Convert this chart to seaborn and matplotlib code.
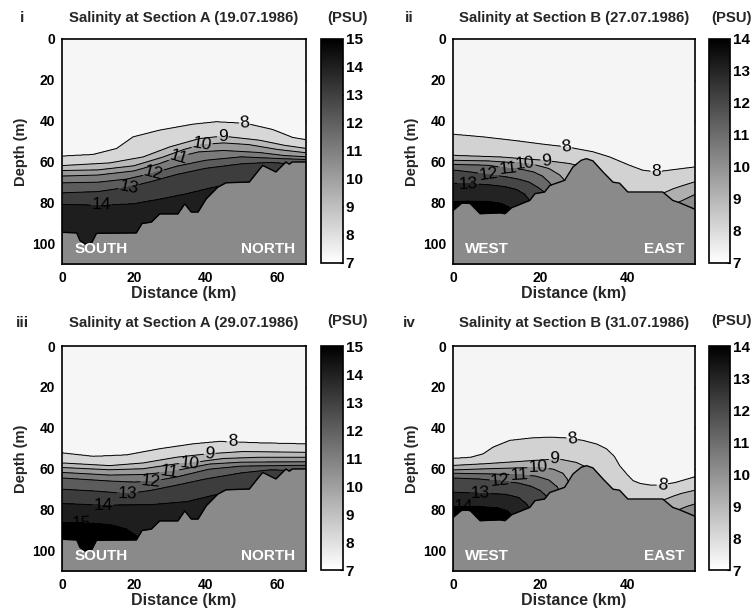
import numpy as np
import matplotlib
matplotlib.use("Agg")
import matplotlib.pyplot as plt
import seaborn as sns
from matplotlib.colors import Normalize
from matplotlib.cm import ScalarMappable

# ---------------- data ----------------
# bathymetry (distance km, depth m)
BATHY_A_KM = [0, 4.1, 5.0, 6.4, 8.2, 9.6, 20.7, 22.3, 24.9, 27.2, 32.3, 34.2, 36.0, 37.9, 40.2, 43.4, 45.7, 52.2, 55.9, 59.6, 62.4, 63.3, 64.2, 68.0]
BATHY_A_M = [94.5, 94.8, 98.5, 100.2, 99.8, 95.0, 94.8, 90.2, 89.5, 85.5, 85.5, 80.6, 84.6, 84.6, 78.1, 72.4, 70.3, 69.9, 61.8, 65.0, 60.1, 61.2, 60.1, 60.1]
BATHY_B_KM = [0, 2.0, 3.9, 6.2, 10.8, 11.9, 13.4, 17.6, 18.8, 21.0, 22.2, 25.6, 27.5, 29.4, 30.6, 32.1, 34.4, 36.7, 38.2, 40.1, 48.1, 50.4, 51.9, 55.8]
BATHY_B_M = [83.8, 80.2, 80.4, 85.4, 85.0, 85.4, 82.5, 78.9, 75.6, 74.8, 71.6, 69.1, 62.6, 59.3, 58.5, 59.6, 65.0, 70.0, 70.5, 74.8, 74.8, 78.9, 80.0, 83.5]

# isohaline depths (km, m) -- panel i, Section A 19.07.1986
I_08 = [(0, 57.3), (8.7, 56.5), (15.2, 53.6), (19.8, 47.9), (27.2, 44.6), (36.5, 41.7), (43, 40.5), (51.3, 41.3), (58.7, 44.3), (64.3, 48.2), (68, 49.3)]
I_09 = [(0, 61.9), (13.3, 60.6), (22.6, 57.7), (30, 52.8), (38.3, 48.7), (44.8, 47.5), (55, 49.5), (62, 52), (68, 53.5)]
I_10 = [(0, 64.3), (10, 64), (20, 62), (28, 57.8), (34, 54), (39, 51.6), (45, 50.8), (52, 51.6), (60, 54), (68, 55.6)]
I_11 = [(0, 67), (10, 66.5), (20, 64.5), (27, 61), (32.4, 57.6), (38, 55.2), (45, 54.5), (55, 55.5), (62, 57), (68, 57.6)]
I_12 = [(0, 70.3), (10, 70), (18, 68.5), (25.5, 65.5), (32, 62.2), (40, 59.3), (50, 57.6), (60, 58.4), (68, 58.9)]
I_13 = [(0, 75.2), (10, 74.6), (18.5, 72.4), (25, 69.6), (32, 66.2), (40, 63.2), (50, 61), (58, 60.3), (68, 61.5)]
I_14 = [(0, 80.8), (11, 81.2), (20, 80.5), (28, 78), (35, 75.5), (42, 72.5), (48, 70.8), (52, 70), (55, 71), (68, 72)]

# panel ii, Section B 27.07.1986
II_08 = [(0, 46.6), (6.9, 47.9), (14.6, 49.8), (20.7, 51.5), (26.1, 52.8), (32.1, 55.2), (35.9, 57.7), (40.5, 61.8), (43.5, 64.2), (46.6, 65), (55.5, 62.6)]
II_09 = [(0, 56.9), (10.8, 57.7), (20.7, 59.3), (26.8, 60.9), (28.5, 61.8), (30.6, 59.6), (32.5, 61), (36.7, 70.6), (40, 76), (47, 76.5), (48.6, 75), (50.5, 73.2), (52.5, 71.8), (55.5, 69.8)]
II_10 = [(0, 59.3), (8, 59.6), (16.5, 60.8), (19, 61.6), (22, 63.3), (24.5, 66.5), (26, 70), (27, 76), (28.5, 90), (46, 90), (49, 84), (51.2, 80.3), (53.5, 78), (55.5, 76)]
II_11 = [(0, 61.3), (8, 61.7), (12.7, 63.2), (16, 63.8), (18.5, 65), (20.5, 67), (22.2, 70.3), (23.5, 75), (24.5, 92), (46, 92), (55.5, 92)]
II_12 = [(0, 64), (4, 65), (8.1, 66.3), (12, 67.3), (15, 68.5), (17.5, 70), (19.5, 72.5), (20.8, 74.6), (21.8, 80), (23, 94), (46, 94), (55.5, 94)]
II_13 = [(0, 70.5), (3.5, 70.7), (8, 71.2), (12, 72.2), (14.5, 73.5), (16.2, 75.5), (17.3, 78), (18, 82), (19, 96), (46, 96), (55.5, 96)]
II_14 = [(0, 79.5), (3, 79.2), (8, 79.4), (11, 80.3), (12.8, 82), (13.6, 85), (14.5, 98), (46, 98), (55.5, 98)]

# panel iii, Section A 29.07.1986
III_08 = [(0, 52.3), (8.7, 54), (18, 53.3), (27.2, 50.3), (36.5, 47.9), (43.9, 46.7), (55, 47.4), (68, 47.9)]
III_09 = [(0, 57.2), (13.3, 58.5), (22.6, 57.2), (31.9, 54.4), (40.2, 52.8), (50.4, 51.6), (68, 52)]
III_10 = [(0, 59.4), (13.3, 60.5), (22.6, 60), (31.9, 57.6), (35.6, 57.2), (45, 55), (55, 54.4), (68, 54.4)]
III_11 = [(0, 61.8), (13.3, 63.1), (22.6, 62.8), (30, 61.5), (41.1, 57.7), (50, 56.8), (68, 56.6)]
III_12 = [(0, 64.5), (13.3, 66), (20, 66.5), (25, 66.2), (32, 64), (41, 60.2), (50, 58.7), (68, 58.3)]
III_13 = [(0, 70), (10, 71), (18.3, 72.2), (25, 70.5), (32, 68), (40, 65), (50, 62), (58, 60.5), (68, 61)]
III_14 = [(0, 77), (11.4, 77.8), (25, 77.5), (35, 76), (42, 73), (48, 71), (52, 70), (55, 71), (68, 72)]
III_15 = [(0, 86.3), (8, 86.5), (14, 87.5), (18, 89.5), (21, 93), (22.5, 97), (25, 105), (68, 110)]

# panel iv, Section B 31.07.1986
IV_08 = [(0, 55), (4, 54.5), (6.9, 52.8), (9.2, 49.5), (13, 46.2), (18, 45), (22.2, 44.6), (26, 45), (29.8, 46.2), (33, 48), (35.2, 50.3), (37, 54), (38.2, 58.5), (40, 63), (41.3, 65.9), (43, 67.3), (45.1, 68), (47.7, 68), (51, 66.8), (55.5, 64)]
IV_09 = [(0, 58.4), (8, 57.5), (15, 56.5), (20, 55.8), (24.1, 55.2), (28.3, 56.9), (30, 58.6), (30.6, 59.4), (32.5, 61), (36.7, 70.6), (40, 76), (47, 76.5), (48.6, 75), (50.5, 73.4), (52.5, 72), (55.5, 70.5)]
IV_10 = [(0, 60.6), (8, 60), (15, 59.6), (19.5, 59.4), (23, 60.2), (25.2, 62.2), (26.2, 65), (27, 69), (28, 80), (29, 90), (47, 90), (49.5, 84), (51.6, 80.2), (53.5, 78.5), (55.5, 77.2)]
IV_11 = [(0, 62.2), (8, 62.5), (15.3, 62.9), (19, 63.6), (22, 65.5), (24, 69), (25, 75), (26, 92), (47, 92), (55.5, 92)]
IV_12 = [(0, 64.5), (6, 65), (10.8, 66), (15, 67), (18, 68.6), (20, 70.6), (21.5, 73.5), (22.5, 80), (23.5, 94), (47, 94), (55.5, 94)]
IV_13 = [(0, 71.5), (6.2, 71.9), (12, 72.5), (15, 74), (16.8, 77), (17.8, 80), (19, 96), (47, 96), (55.5, 96)]
IV_14 = [(0, 78.5), (5, 78.3), (10, 79), (12.5, 80.5), (13.5, 83), (14.5, 98), (47, 98), (55.5, 98)]

# contour-label anchor points (km, m)
LAB_I = [(50.9, 42.1), (44.8, 47.5), (39, 51.4), (32.4, 57.1), (25.5, 65.3), (18.5, 71.8), (11, 82.0)]
LAB_II = [(26.1, 52.2), (46.6, 64.9), (21.4, 58.5), (16.5, 60.9), (12.7, 63.4), (8.1, 66.7), (3.5, 70.7)]
LAB_III = [(47.5, 46.7), (41.2, 54.1), (35.6, 57.4), (29.9, 61.5), (24.8, 66.4), (18.3, 72.6), (11.4, 78.4), (5.4, 85.2)]
LAB_IV = [(27.2, 46.2), (48, 66.6), (23.3, 55.4), (19.5, 59.2), (15.3, 62.8), (10.8, 65.8), (6.2, 71.8), (2.4, 79.2)]

TITLES = ["Salinity at Section A (19.07.1986)", "Salinity at Section B (27.07.1986)",
          "Salinity at Section A (29.07.1986)", "Salinity at Section B (31.07.1986)"]
PANEL_TAGS = ["i", "ii", "iii", "iv"]
CBAR_MAX = [15, 14, 15, 14]
SIDE_LABELS = [("SOUTH", "NORTH"), ("WEST", "EAST"), ("SOUTH", "NORTH"), ("WEST", "EAST")]
X_MAX = [68, 55.5, 68, 55.5]
X_TICKS = [[0, 20, 40, 60], [0, 20, 40], [0, 20, 40, 60], [0, 20, 40]]
Y_TICKS = [0, 20, 40, 60, 80, 100]

ISO = [
    {8: I_08, 9: I_09, 10: I_10, 11: I_11, 12: I_12, 13: I_13, 14: I_14},
    {8: II_08, 9: II_09, 10: II_10, 11: II_11, 12: II_12, 13: II_13, 14: II_14},
    {8: III_08, 9: III_09, 10: III_10, 11: III_11, 12: III_12, 13: III_13, 14: III_14, 15: III_15},
    {8: IV_08, 9: IV_09, 10: IV_10, 11: IV_11, 12: IV_12, 13: IV_13, 14: IV_14},
]
BATHY = [(BATHY_A_KM, BATHY_A_M), (BATHY_B_KM, BATHY_B_M), (BATHY_A_KM, BATHY_A_M), (BATHY_B_KM, BATHY_B_M)]
LABELS = [LAB_I, LAB_II, LAB_III, LAB_IV]

# ---------------- style ----------------
sns.set_theme(style="white")
plt.rcParams["font.family"] = ["Liberation Sans", "DejaVu Sans"]
plt.rcParams["font.weight"] = "bold"
plt.rcParams["axes.labelweight"] = "bold"
plt.rcParams["axes.edgecolor"] = "black"
plt.rcParams["axes.linewidth"] = 1.2

W, H = 754, 613
fig = plt.figure(figsize=(W / 100, H / 100), dpi=100)


def fx(px):
    return px / W


def fy(py):
    return 1 - py / H


def build_field(iso, xg, zg, s_top, s_bottom):
    lev = sorted(iso)
    D = []
    for l in lev:
        pts = np.array(iso[l], dtype=float)
        D.append(np.interp(xg, pts[:, 0], pts[:, 1]))
    D = np.array(D)
    for k in range(1, len(lev)):
        D[k] = np.maximum(D[k], D[k - 1] + 0.05)
    S = np.empty((len(zg), len(xg)))
    for j in range(len(xg)):
        zp = np.concatenate([[0.0], D[:, j], [130.0]])
        sp = np.concatenate([[s_top], lev, [s_bottom]])
        S[:, j] = np.interp(zg, zp, sp)
    return S, lev


# pixel layout [left, right, top, bottom] for axes and colorbars
AX_BOX = [(62, 306, 39, 264), (453, 695, 39, 264), (62, 306, 346, 571), (453, 695, 346, 571)]
CB_BOX = [(321, 343, 39, 263), (709, 730, 39, 263), (321, 343, 346, 570), (709, 730, 346, 570)]
TAG_POS = [(22, 18), (409, 18), (22, 323), (409, 323)]
PSU_POS = [(347, 18), (731, 18), (347, 321), (731, 321)]

cmap = plt.get_cmap("gray_r")
for p in range(4):
    l, r, t, b = AX_BOX[p]
    ax = fig.add_axes([fx(l), fy(b), fx(r - l), (b - t) / H])
    vmax = CBAR_MAX[p]
    xg = np.linspace(0, X_MAX[p], 700)
    zg = np.linspace(0, 112, 561)
    s_bottom = vmax - 0.1 if p == 0 else vmax + 0.8
    S, lev = build_field(ISO[p], xg, zg, 7.3, s_bottom)
    top_level = max(lev)
    fill_levels = np.arange(7, top_level + 2)
    norm = Normalize(7.2, vmax + 0.5)
    ax.contourf(xg, zg, S, levels=fill_levels, cmap=cmap, norm=norm, zorder=1)
    cs = ax.contour(xg, zg, S, levels=lev, colors="black", linewidths=0.7, zorder=2)
    ax.clabel(cs, levels=lev, manual=LABELS[p], inline=True, inline_spacing=1,
              fmt="%d", fontsize=12.5, colors="black")
    for txt in cs.labelTexts:
        txt.set_fontweight("normal")
        txt.set_zorder(4)

    bx, by = BATHY[p]
    ax.fill_between(bx, by, 115, color="#8a8a8a", lw=0, zorder=2.5)
    sns.lineplot(x=bx, y=by, color="black", lw=1.0, ax=ax, sort=False, estimator=None, zorder=2.6)

    ax.set_xlim(0, X_MAX[p])
    ax.set_ylim(110, 0)
    ax.set_xticks(X_TICKS[p])
    ax.set_yticks(Y_TICKS)
    ax.tick_params(direction="in", length=3, width=1, top=True, right=True,
                   labelsize=10, pad=5, colors="black")
    for lab in ax.get_xticklabels() + ax.get_yticklabels():
        lab.set_fontweight("bold")
    ax.set_xlabel("Distance (km)", fontsize=11.5, fontweight="bold", labelpad=1)
    ax.set_ylabel("Depth (m)", fontsize=10.5, fontweight="bold", labelpad=3)
    for s in ax.spines.values():
        s.set_linewidth(1.2)
        s.set_color("black")
        s.set_zorder(5)

    left_txt, right_txt = SIDE_LABELS[p]
    ax.text(0.05, 0.035, left_txt, transform=ax.transAxes, color="white", fontsize=11,
            fontweight="bold", ha="left", va="bottom", zorder=6)
    ax.text(0.955, 0.035, right_txt, transform=ax.transAxes, color="white", fontsize=11,
            fontweight="bold", ha="right", va="bottom", zorder=6)

    # colorbar
    cl, cr, ct, cbm = CB_BOX[p]
    cax = fig.add_axes([fx(cl), fy(cbm), fx(cr - cl), (cbm - ct) / H])
    sm = ScalarMappable(norm=Normalize(7, vmax), cmap=cmap)
    cb = fig.colorbar(sm, cax=cax, ticks=list(range(7, vmax + 1)))
    cb.outline.set_linewidth(1.2)
    cb.outline.set_edgecolor("black")
    cax.tick_params(direction="in", length=2, width=0.8, labelsize=11, pad=2, colors="black")
    for lab in cax.get_yticklabels():
        lab.set_fontweight("bold")

    cx = (l + r) / 2
    fig.text(fx(cx), fy(TAG_POS[p][1]), TITLES[p], ha="center", va="center",
             fontsize=10.7, fontweight="bold")
    fig.text(fx(TAG_POS[p][0]), fy(TAG_POS[p][1]), PANEL_TAGS[p], ha="center", va="center",
             fontsize=11, fontweight="bold")
    fig.text(fx(PSU_POS[p][0]), fy(PSU_POS[p][1]), "(PSU)", ha="center", va="center",
             fontsize=10.7, fontweight="bold")

fig.savefig("out.png", dpi=100, facecolor="white")
